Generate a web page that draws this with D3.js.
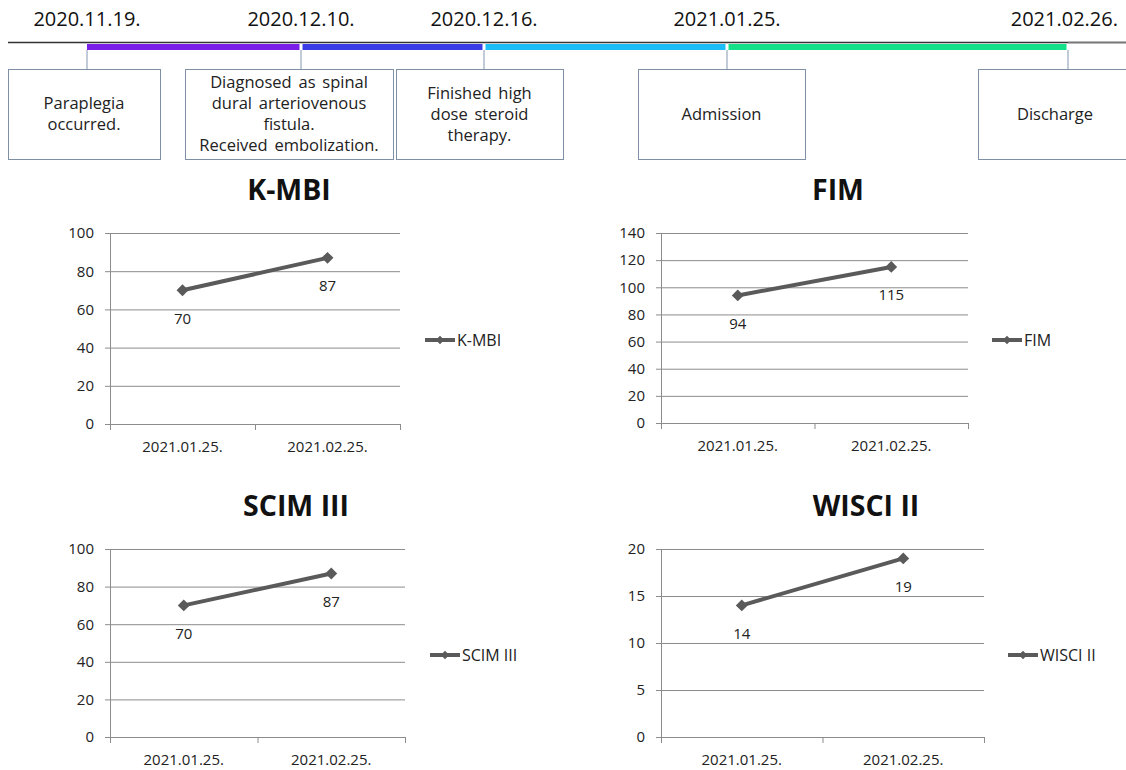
<!DOCTYPE html>
<html>
<head>
<meta charset="utf-8">
<script src="https://cdn.jsdelivr.net/npm/d3@7"></script>
<style>
  body { margin: 0; background: #fff; }
  svg { display: block; font-family: "Open Sans", "Noto Sans", sans-serif; }
</style>
</head>
<body>
<svg width="1126" height="770"></svg>
<script>
// dados da linha do tempo
const timelineDates = ["2020.11.19.", "2020.12.10.", "2020.12.16.", "2021.01.25.", "2021.02.26."];
const timelineEvents = [
  ["Paraplegia", "occurred."],
  ["Diagnosed as spinal", "dural arteriovenous", "fistula.", "Received embolization."],
  ["Finished high", "dose steroid", "therapy."],
  ["Admission"],
  ["Discharge"]
];
const periodColors = ["#7a1fe8", "#3a3ce6", "#1bbdf7", "#14e08a"];

// dados dos gráficos
const categories = ["2021.01.25.", "2021.02.25."];
const kmbiValues = [70, 87];
const fimValues = [94, 115];
const scimValues = [70, 87];
const wisciValues = [14, 19];
const kmbiTicks = [0, 20, 40, 60, 80, 100];
const fimTicks = [0, 20, 40, 60, 80, 100, 120, 140];
const scimTicks = [0, 20, 40, 60, 80, 100];
const wisciTicks = [0, 5, 10, 15, 20];

const svg = d3.select("svg");

// ---- Linha do tempo ----
// posição de cada data no eixo (não é proporcional ao tempo no original)
const dateX = d3.scaleOrdinal().domain(timelineDates).range([87, 301, 484, 727, 1068]);
const boxes = [
  { x: 8, w: 152 }, { x: 185, w: 208 }, { x: 396, w: 167 }, { x: 638, w: 167 }, { x: 978, w: 160 }
];

svg.append("line")
  .attr("x1", 8).attr("x2", 1126).attr("y1", 42.5).attr("y2", 42.5)
  .attr("stroke", "#333").attr("stroke-width", 1.5);
svg.append("line")
  .attr("x1", 1068).attr("x2", 1126).attr("y1", 42.5).attr("y2", 42.5)
  .attr("stroke", "#7a7a7a").attr("stroke-width", 1.5);

svg.selectAll("rect.period")
  .data(periodColors)
  .enter()
  .append("rect")
  .attr("class", "period")
  .attr("x", (c, i) => dateX(timelineDates[i]) + (i ? 1.5 : 0))
  .attr("y", 44)
  .attr("width", (c, i) => dateX(timelineDates[i + 1]) - dateX(timelineDates[i]) - (i ? 1.5 : 0) - 1.5)
  .attr("height", 6)
  .attr("fill", c => c);

svg.selectAll("text.date")
  .data(timelineDates)
  .enter()
  .append("text")
  .attr("class", "date")
  .attr("x", (d, i) => i === 4 ? 1118 : dateX(d))
  .attr("y", 26)
  .attr("text-anchor", (d, i) => i === 4 ? "end" : "middle")
  .attr("font-size", 20)
  .attr("fill", "#111")
  .text(d => d);

svg.selectAll("line.conn")
  .data(timelineDates)
  .enter()
  .append("line")
  .attr("class", "conn")
  .attr("x1", d => dateX(d)).attr("x2", d => dateX(d))
  .attr("y1", 50).attr("y2", 69)
  .attr("stroke", "#8497b0").attr("stroke-width", 1);

const boxG = svg.selectAll("g.box")
  .data(timelineEvents)
  .enter()
  .append("g")
  .attr("class", "box");

boxG.append("rect")
  .attr("x", (d, i) => boxes[i].x + 0.5)
  .attr("y", 69.5)
  .attr("width", (d, i) => boxes[i].w)
  .attr("height", 90)
  .attr("fill", "#fff")
  .attr("stroke", "#7f8fa6")
  .attr("stroke-width", 1);

boxG.each(function (lines, i) {
  const cx = i === 4 ? 1055 : boxes[i].x + boxes[i].w / 2;
  const lh = 21;
  const y0 = 114 - (lines.length - 1) * lh / 2;
  d3.select(this).selectAll("text")
    .data(lines)
    .enter()
    .append("text")
    .attr("x", cx)
    .attr("y", (l, j) => y0 + j * lh)
    .attr("dy", ".35em")
    .attr("text-anchor", "middle")
    .attr("font-size", 16.5)
    .attr("word-spacing", 2.5)
    .attr("fill", "#222")
    .text(l => l);
});

// ---- Gráficos de linha ----
const panels = [
  { title: "K-MBI", values: kmbiValues, ticks: kmbiTicks, x0: 110, x1: 400, top: 233, bottom: 424, titleX: 289, titleY: 200, legX: 425, legY: 340 },
  { title: "FIM", values: fimValues, ticks: fimTicks, x0: 661, x1: 968, top: 233, bottom: 423, titleX: 838, titleY: 200, legX: 992, legY: 340 },
  { title: "SCIM III", values: scimValues, ticks: scimTicks, x0: 110, x1: 405, top: 549, bottom: 737, titleX: 296, titleY: 516, legX: 430, legY: 655 },
  { title: "WISCI II", values: wisciValues, ticks: wisciTicks, x0: 661, x1: 984, top: 549, bottom: 737, titleX: 866, titleY: 516, legX: 1008, legY: 655 }
];

const lineColor = "#5a5a5a";
const diamond = d3.symbol().type(d3.symbolDiamond2).size(90);

panels.forEach(p => {
  const g = svg.append("g");
  const x = d3.scaleBand().domain(categories).range([p.x0, p.x1]);
  const y = d3.scaleLinear().domain([0, d3.max(p.ticks)]).range([p.bottom, p.top]);

  // título
  g.append("text")
    .attr("x", p.titleX).attr("y", p.titleY)
    .attr("text-anchor", "middle")
    .attr("font-size", 28.5).attr("font-weight", "bold")
    .attr("fill", "#111")
    .text(p.title);

  // linhas de grade + eixo y
  const yAxis = d3.axisLeft(y).tickValues(p.ticks).tickSize(-(p.x1 - p.x0)).tickPadding(16);
  const ya = g.append("g").attr("transform", `translate(${p.x0},0)`).call(yAxis);
  ya.select(".domain").remove();
  ya.selectAll(".tick line").attr("stroke", "#8c8c8c").attr("x1", -5);
  ya.selectAll(".tick text").attr("font-size", 15).attr("fill", "#222")
    .attr("font-family", "\"Open Sans\", sans-serif");
  g.append("line")
    .attr("x1", p.x0 + 0.5).attr("x2", p.x0 + 0.5).attr("y1", p.top).attr("y2", p.bottom)
    .attr("stroke", "#8c8c8c");

  // eixo x: marcas nos limites das categorias
  const edges = categories.map(c => x(c)).concat([p.x1]);
  g.selectAll("line.xt")
    .data(edges)
    .enter()
    .append("line")
    .attr("x1", d => d + 0.5).attr("x2", d => d + 0.5)
    .attr("y1", p.bottom).attr("y2", p.bottom + 6)
    .attr("stroke", "#8c8c8c");
  g.selectAll("text.xl")
    .data(categories)
    .enter()
    .append("text")
    .attr("x", c => x(c) + x.bandwidth() / 2)
    .attr("y", p.bottom + 28)
    .attr("text-anchor", "middle")
    .attr("font-size", 15).attr("fill", "#222")
    .text(c => c);

  // série
  const pts = p.values.map((v, i) => ({ c: categories[i], v }));
  const line = d3.line().x(d => x(d.c) + x.bandwidth() / 2).y(d => y(d.v));
  g.append("path")
    .attr("d", line(pts))
    .attr("fill", "none")
    .attr("stroke", lineColor)
    .attr("stroke-width", 4)
    .attr("stroke-linecap", "round");
  g.selectAll("path.mk")
    .data(pts)
    .enter()
    .append("path")
    .attr("d", diamond)
    .attr("transform", d => `translate(${x(d.c) + x.bandwidth() / 2},${y(d.v)})`)
    .attr("fill", lineColor);
  g.selectAll("text.lbl")
    .data(pts)
    .enter()
    .append("text")
    .attr("x", d => x(d.c) + x.bandwidth() / 2)
    .attr("y", d => y(d.v) + 28)
    .attr("dy", ".35em")
    .attr("text-anchor", "middle")
    .attr("font-size", 15).attr("fill", "#222")
    .text(d => d.v);

  // legenda
  g.append("line")
    .attr("x1", p.legX).attr("x2", p.legX + 30)
    .attr("y1", p.legY).attr("y2", p.legY)
    .attr("stroke", lineColor).attr("stroke-width", 4);
  g.append("path")
    .attr("d", d3.symbol().type(d3.symbolDiamond2).size(45))
    .attr("transform", `translate(${p.legX + 15},${p.legY})`)
    .attr("fill", lineColor);
  g.append("text")
    .attr("x", p.legX + 32).attr("y", p.legY)
    .attr("dy", ".35em")
    .attr("font-size", 16).attr("fill", "#222")
    .text(p.title);
});
</script>
</body>
</html>
